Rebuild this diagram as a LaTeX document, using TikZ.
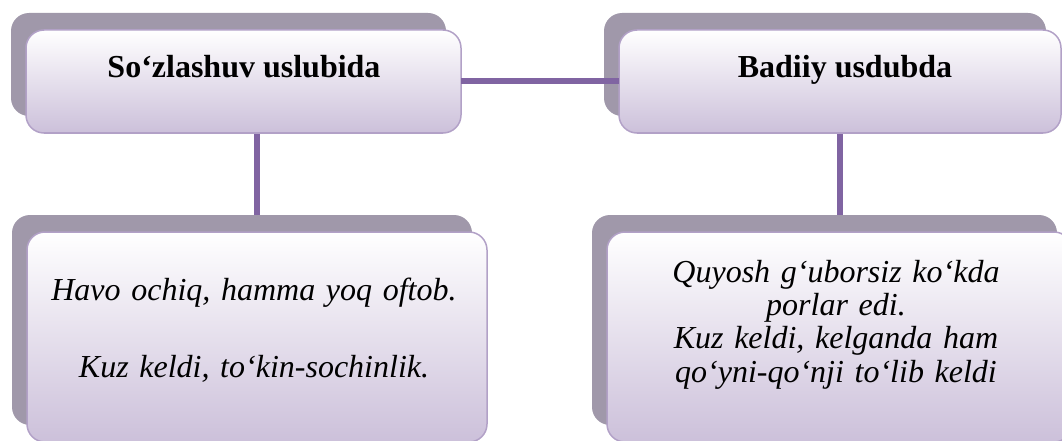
\documentclass[tikz,border=0pt]{standalone}
\usepackage{fontspec}
\setmainfont{Liberation Serif}
\usetikzlibrary{shadows,backgrounds}
\definecolor{shadowgrey}{RGB}{160,152,170}
\definecolor{boxborder}{RGB}{178,161,199}
\definecolor{boxlav}{RGB}{204,192,218}
\definecolor{connc}{RGB}{128,100,162}
\begin{document}
\begin{tikzpicture}[x=1pt,y=-1pt,
  box/.style n args={2}{draw=boxborder, line width=1.5pt, rounded corners=18pt,
    top color=white, bottom color=boxlav, minimum width=#1, minimum height=#2,
    inner sep=0pt, outer sep=0pt,
    general shadow={fill=shadowgrey, shadow xshift=-15pt, shadow yshift=17pt}},
  conn/.style={draw=connc, line width=6pt},
  title/.style={font=\fontsize{32}{36}\selectfont\bfseries, anchor=base, inner sep=0pt},
  body/.style={font=\fontsize{32}{33.4}\selectfont\itshape, anchor=base, inner sep=0pt,
    align=center, text width=460pt}]
\useasboundingbox (0,0) rectangle (1062,441);
\clip (0,0) rectangle (1062,441);
% boxes
\node[box={435pt}{103pt}] (tl) at (243.5,81.5) {};
\node[box={442pt}{103pt}] (tr) at (840,81.5) {};
\node[box={460pt}{210pt}] (bl) at (257,337) {};
\node[box={465pt}{210pt}] (br) at (839.5,337) {};
% texts
\node[title] (tlt) at (244,78) {So‘zlashuv uslubida};
\node[title] (trt) at (845,78) {Badiiy usdubda};
\node[body] (blt) at (254,300) {Havo ochiq, hamma yoq oftob.\\[43.6pt]Kuz keldi, to‘kin-sochinlik.};
\node[body] (brt) at (836,282) {Quyosh g‘uborsiz ko‘kda\\porlar edi.\\Kuz keldi, kelganda ham\\qo‘yni-qo‘nji to‘lib keldi};
% connectors
\begin{scope}[on background layer]
  \draw[conn] (tl.south -| bl.north) -- (bl.north);
  \draw[conn] (tr.south -| br.north) -- (br.north);
\end{scope}
\draw[conn] (tl.east) -- (tr.west);
\end{tikzpicture}
\end{document}
